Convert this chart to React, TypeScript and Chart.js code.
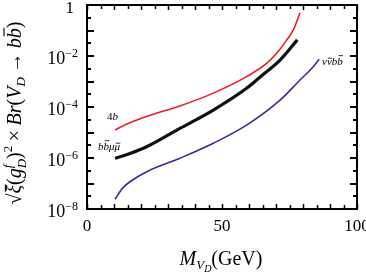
import React, { useEffect, useRef } from "react";
import { Chart, registerables } from "chart.js";

Chart.register(...registerables);

// ---- data ----
const redX = [10.4, 15, 22, 34.4, 46.8, 59.1, 66.5, 71, 74, 76.5, 78.9];
const redY = [1.26e-5, 2.2e-5, 4.2e-5, 1.1e-4, 3.5e-4, 1.55e-3, 5.1e-3, 1.6e-2, 4.3e-2, 0.11, 0.5];

const blackX = [10.4, 15.9, 22.1, 34.4, 46.8, 59.1, 65, 71.5, 77.9];
const blackY = [9.8e-7, 1.5e-6, 2.75e-6, 1.45e-5, 7.6e-5, 5.4e-4, 1.8e-3, 6.9e-3, 4.3e-2];

const blueX = [10.4, 13, 15.9, 22.1, 34.4, 46.8, 59.1, 71.5, 78.9, 83.8, 86];
const blueY = [2.4e-8, 6.3e-8, 1.17e-7, 2.9e-7, 9.8e-7, 3.8e-6, 1.95e-5, 1.86e-4, 1.15e-3, 3.8e-3, 7.4e-3];

const xTickLabels = [0, 50, 100];
const yTickExponents = [0, -2, -4, -6, -8];

const SERIF = "'Liberation Serif', 'DejaVu Serif', serif";

type Seg = { t: string; it?: boolean; sz?: number; dy?: number; bar?: number; noAdv?: boolean; pad?: number };

function segWidth(ctx: CanvasRenderingContext2D, s: Seg, base: number) {
  ctx.font = `${s.it ? "italic " : ""}${s.sz ?? base}px ${SERIF}`;
  return ctx.measureText(s.t).width + (s.pad ?? 0);
}

function drawRich(ctx: CanvasRenderingContext2D, segs: Seg[], x: number, y: number, base: number, align: "left" | "center" | "right") {
  let total = 0;
  for (const s of segs) if (!s.noAdv) total += segWidth(ctx, s, base);
  let cx = align === "left" ? x : align === "center" ? x - total / 2 : x - total;
  ctx.textBaseline = "alphabetic";
  ctx.textAlign = "left";
  for (const s of segs) {
    const sz = s.sz ?? base;
    const w = segWidth(ctx, s, base);
    ctx.fillText(s.t, cx + (s.pad ?? 0) / 2, y + (s.dy ?? 0));
    if (s.bar) {
      ctx.save();
      ctx.lineWidth = Math.max(0.8, sz / 18);
      ctx.beginPath();
      const by = y + (s.dy ?? 0) - sz * s.bar;
      ctx.moveTo(cx + w * 0.2, by);
      ctx.lineTo(cx + w * 1.05, by);
      ctx.stroke();
      ctx.restore();
    }
    if (!s.noAdv) cx += w;
  }
}

const decorPlugin = {
  id: "decor",
  afterDraw(chart: any) {
    const ctx: CanvasRenderingContext2D = chart.ctx;
    const { left, right, top, bottom } = chart.chartArea;
    const xs = chart.scales.x;
    const ys = chart.scales.y;
    ctx.save();
    ctx.strokeStyle = "#000";
    ctx.fillStyle = "#000";

    // ticks
    ctx.lineWidth = 1.5;
    for (let v = 0; v <= 100; v += 5) {
      const px = Math.round(xs.getPixelForValue(v)) + 0.5;
      const len = v % 10 === 0 ? 5 : 4;
      ctx.beginPath();
      ctx.moveTo(px, bottom);
      ctx.lineTo(px, bottom - len);
      ctx.moveTo(px, top);
      ctx.lineTo(px, top + len);
      ctx.stroke();
    }
    ctx.lineWidth = 2;
    for (let e = 0; e >= -8; e -= 0.5) {
      const py = Math.round(ys.getPixelForValue(Math.pow(10, e)));
      const len = Number.isInteger(e) ? 7 : 4;
      ctx.beginPath();
      ctx.moveTo(left, py);
      ctx.lineTo(left + len, py);
      ctx.moveTo(right, py);
      ctx.lineTo(right - len, py);
      ctx.stroke();
    }

    // border
    ctx.lineWidth = 2;
    ctx.strokeRect(left, top, right - left, bottom - top);

    // x tick labels
    ctx.font = `17px ${SERIF}`;
    ctx.textAlign = "center";
    ctx.textBaseline = "alphabetic";
    for (const v of xTickLabels) {
      ctx.fillText(String(v), xs.getPixelForValue(v), bottom + 22);
    }

    // y tick labels
    for (const e of yTickExponents) {
      const py = ys.getPixelForValue(Math.pow(10, e));
      if (e === 0) {
        ctx.font = `17px ${SERIF}`;
        ctx.textAlign = "right";
        ctx.fillText("1", 74, py + 8);
      } else {
        drawRich(ctx, [{ t: "10" }, { t: "\u2212" + String(-e), sz: 12, dy: -7 }], 78, py + 8, 18, "right");
      }
    }

    // y axis title
    ctx.save();
    ctx.translate(21, 113);
    ctx.rotate(-Math.PI / 2);
    drawRich(
      ctx,
      [
        { t: "\u221A" },
        { t: "\u03BE", it: true, bar: 0.78 },
        { t: "(" },
        { t: "g", it: true },
        { t: "f", it: true, sz: 13, dy: -9, noAdv: true },
        { t: "D", it: true, sz: 13, dy: 5 },
        { t: ")" },
        { t: "2", sz: 13, dy: -9 },
        { t: "\u00D7", pad: 9 },
        { t: "Br", it: true },
        { t: "(" },
        { t: "V", it: true },
        { t: "D", it: true, sz: 13, dy: 4 },
        { t: "\u2192", pad: 9 },
        { t: "b", it: true },
        { t: "b", it: true, bar: 0.85 },
        { t: ")" },
      ],
      0,
      0,
      20,
      "center"
    );
    ctx.restore();

    // x axis title
    drawRich(
      ctx,
      [
        { t: "M", it: true },
        { t: "V", it: true, sz: 13, dy: 4 },
        { t: "D", it: true, sz: 10, dy: 7 },
        { t: "(GeV)" },
      ],
      221,
      265,
      20,
      "center"
    );

    // curve labels
    drawRich(ctx, [{ t: "4", sz: 11 }, { t: "b", it: true, sz: 11 }], 107, 120, 11, "left");
    drawRich(
      ctx,
      [
        { t: "b", it: true },
        { t: "b", it: true, bar: 0.85 },
        { t: "\u03BC", it: true },
        { t: "\u03BC", it: true, bar: 0.62 },
      ],
      98,
      150,
      11,
      "left"
    );
    drawRich(
      ctx,
      [
        { t: "\u03BD", it: true },
        { t: "\u03BD", it: true, bar: 0.62 },
        { t: "b", it: true },
        { t: "b", it: true, bar: 0.85 },
      ],
      322,
      65,
      11,
      "left"
    );

    ctx.restore();
  },
};

function pts(xs: number[], ys: number[]) {
  return xs.map((x, i) => ({ x, y: ys[i] }));
}

export default function App() {
  const ref = useRef<HTMLCanvasElement>(null);
  useEffect(() => {
    if (!ref.current) return;
    const chart = new Chart(ref.current, {
      type: "line",
      data: {
        datasets: [
          { data: pts(redX, redY), borderColor: "#ec1c24", borderWidth: 1.6, pointRadius: 0, cubicInterpolationMode: "monotone" },
          { data: pts(blackX, blackY), borderColor: "#111111", borderWidth: 3.2, pointRadius: 0, cubicInterpolationMode: "monotone" },
          { data: pts(blueX, blueY), borderColor: "#2e3192", borderWidth: 1.6, pointRadius: 0, cubicInterpolationMode: "monotone" },
        ],
      },
      options: {
        animation: false,
        responsive: false,
        devicePixelRatio: 1,
        layout: { padding: { left: 87, right: 9, top: 5, bottom: 63 } },
        plugins: { legend: { display: false }, tooltip: { enabled: false } },
        scales: {
          x: { type: "linear", min: 0, max: 100, display: false },
          y: { type: "logarithmic", min: 1e-8, max: 1, display: false },
        },
      } as any,
      plugins: [decorPlugin],
    });
    return () => chart.destroy();
  }, []);
  return (
    <div style={{ position: "fixed", left: 0, top: 0, width: 366, height: 272, background: "#fff" }}>
      <canvas ref={ref} width={366} height={272} style={{ width: 366, height: 272, display: "block" }} />
    </div>
  );
}
